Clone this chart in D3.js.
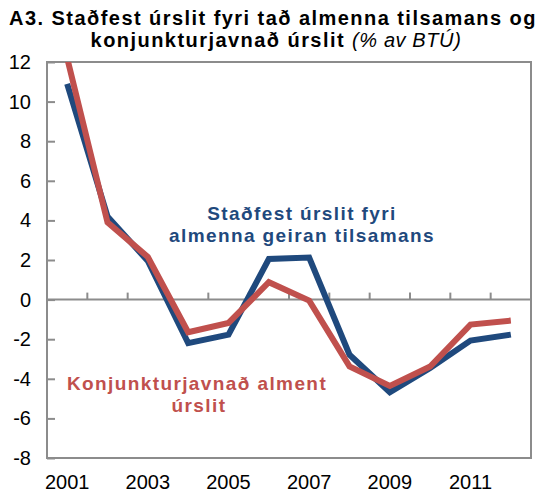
<!DOCTYPE html>
<html>
<head>
<meta charset="utf-8">
<script src="https://cdn.jsdelivr.net/npm/d3@7.9.0/dist/d3.min.js"></script>
<style>
  body { margin: 0; background: #fff; }
  svg { display: block; font-family: "Liberation Sans", Arial, sans-serif; }
</style>
</head>
<body>
<svg id="chart" width="543" height="493"></svg>
<script>
// data
const years = ['2001', '2002', '2003', '2004', '2005', '2006', '2007', '2008', '2009', '2010', '2011', '2012'];
const stadfest = [10.9, 4.2, 1.95, -2.2, -1.77, 2.05, 2.12, -2.78, -4.68, -3.45, -2.07, -1.77];
const konjunktur = [12.2, 3.9, 2.15, -1.65, -1.18, 0.88, -0.05, -3.37, -4.36, -3.38, -1.26, -1.06];
const yTicks = [-8, -6, -4, -2, 0, 2, 4, 6, 8, 10, 12];
const xLabels = ['2001', '2003', '2005', '2007', '2009', '2011'];

const blue = '#1f497d';
const red = '#c0504d';
const grey = '#8c8c8c';

const svg = d3.select('#chart');

const plotL = 47, plotR = 531, plotT = 62, plotB = 458;

let x = d3.scaleBand().domain(years).range([plotL, plotR]);
let y = d3.scaleLinear().domain([-8, 12]).range([plotB, plotT]);

// title
let title = svg.append('text')
    .attr('text-anchor', 'middle')
    .attr('font-weight', 'bold')
    .attr('font-size', 20)
    .attr('letter-spacing', 1.45)
    .attr('fill', '#000');
title.append('tspan').attr('x', 273).attr('y', 25)
    .text('A3. Staðfest úrslit fyri tað almenna tilsamans og');
title.append('tspan').attr('x', 276).attr('y', 47)
    .text('konjunkturjavnað úrslit ');
title.append('tspan').attr('font-weight', 'normal').attr('font-style', 'italic')
    .attr('letter-spacing', 0.6)
    .text('(% av BTÚ)');

// clip for lines
svg.append('clipPath').attr('id', 'plot-clip')
    .append('rect')
    .attr('x', plotL).attr('y', plotT)
    .attr('width', plotR - plotL).attr('height', plotB - plotT);

// zero line with category ticks
svg.append('line')
    .attr('x1', plotL).attr('x2', plotR)
    .attr('y1', y(0)).attr('y2', y(0))
    .attr('stroke', grey).attr('stroke-width', 2);

svg.append('g')
    .selectAll('line')
    .data(years.slice(1))
    .join('line')
    .attr('x1', (d) => x(d)).attr('x2', (d) => x(d))
    .attr('y1', y(0)).attr('y2', y(0) - 7)
    .attr('stroke', grey).attr('stroke-width', 2);

// left axis, ticks pointing inward
let yAxis = svg.append('g')
    .attr('transform', `translate(${plotL},0)`)
    .call(d3.axisLeft(y).tickValues(yTicks).tickFormat((d) => String(d))
        .tickSize(-8).tickPadding(16));
yAxis.select('.domain').remove();
yAxis.selectAll('line').attr('stroke', grey).attr('stroke-width', 2);
yAxis.selectAll('text')
    .attr('font-size', 20)
    .attr('font-family', '"Liberation Sans", Arial, sans-serif')
    .attr('fill', '#000');

// bottom labels
let xAxis = svg.append('g')
    .attr('transform', `translate(0,${plotB})`)
    .call(d3.axisBottom(x).tickValues(xLabels).tickSize(0).tickPadding(17));
xAxis.select('.domain').remove();
xAxis.selectAll('text')
    .attr('font-size', 20)
    .attr('font-family', '"Liberation Sans", Arial, sans-serif')
    .attr('fill', '#000');

// plot frame
svg.append('rect')
    .attr('x', plotL).attr('y', plotT)
    .attr('width', plotR - plotL).attr('height', plotB - plotT)
    .attr('fill', 'none')
    .attr('stroke', grey).attr('stroke-width', 2);

// lines
let line = d3.line()
    .x((d, i) => x(years[i]) + x.bandwidth() / 2)
    .y((d) => y(d));

let lines = svg.append('g').attr('clip-path', 'url(#plot-clip)');
lines.append('path')
    .attr('d', line(stadfest))
    .attr('fill', 'none')
    .attr('stroke', blue)
    .attr('stroke-width', 6);
lines.append('path')
    .attr('d', line(konjunktur))
    .attr('fill', 'none')
    .attr('stroke', red)
    .attr('stroke-width', 6);

// series labels
let blueLabel = svg.append('text')
    .attr('text-anchor', 'middle')
    .attr('font-weight', 'bold')
    .attr('font-size', 19)
    .attr('letter-spacing', 1.4)
    .attr('fill', blue);
blueLabel.append('tspan').attr('x', 302).attr('y', 220).text('Staðfest úrslit fyri');
blueLabel.append('tspan').attr('x', 302).attr('y', 242).text('almenna geiran tilsamans');

let redLabel = svg.append('text')
    .attr('text-anchor', 'middle')
    .attr('font-weight', 'bold')
    .attr('font-size', 19)
    .attr('letter-spacing', 1.4)
    .attr('fill', red);
redLabel.append('tspan').attr('x', 197).attr('y', 390).text('Konjunkturjavnað alment');
redLabel.append('tspan').attr('x', 199).attr('y', 412).text('úrslit');
</script>
</body>
</html>
